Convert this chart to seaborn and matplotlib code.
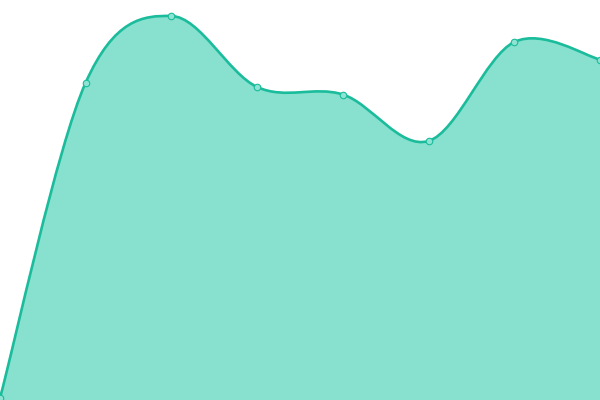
import matplotlib
matplotlib.use("Agg")
import matplotlib.pyplot as plt
from matplotlib.path import Path
from matplotlib.patches import PathPatch
import numpy as np
import pandas as pd
import seaborn as sns

# values
positions = [0, 1, 2, 3, 4, 5, 6, 7]
values = [2, 317.5, 384, 313, 305.5, 259, 358, 340.5]

LINE = "#1abc9c"
FILL = "#88e0cf"


def smooth_path(xs, ys, close_to=None):
    # Catmull-Rom segments written as cubic Bezier pieces (data coords)
    pts = np.column_stack([xs, ys]).astype(float)
    n = len(pts)
    verts = [tuple(pts[0])]
    codes = [Path.MOVETO]
    for i in range(n - 1):
        p0 = pts[max(i - 1, 0)]
        p1 = pts[i]
        p2 = pts[i + 1]
        p3 = pts[min(i + 2, n - 1)]
        c1 = p1 + (p2 - p0) / 6
        c2 = p2 - (p3 - p1) / 6
        verts += [tuple(c1), tuple(c2), tuple(p2)]
        codes += [Path.CURVE4] * 3
    if close_to is not None:
        verts += [(pts[-1, 0], close_to), (pts[0, 0], close_to), verts[0]]
        codes += [Path.LINETO, Path.LINETO, Path.CLOSEPOLY]
    return Path(verts, codes)


df = pd.DataFrame({"x": positions, "y": values})

sns.set_style("white")
fig = plt.figure(figsize=(6, 4), dpi=100)
ax = fig.add_axes([0, 0, 1, 1])

ax.add_patch(PathPatch(smooth_path(df.x, df.y, close_to=0), facecolor=FILL,
                       edgecolor="none", zorder=1))
ax.add_patch(PathPatch(smooth_path(df.x, df.y), facecolor="none",
                       edgecolor=LINE, lw=1.9, zorder=2))
sns.scatterplot(data=df, x="x", y="y", ax=ax, s=22, color="#8fe3d2",
                edgecolor=LINE, linewidth=0.8, zorder=3, clip_on=True)

ax.set_xlim(0, 7)
ax.set_ylim(0, 400)
ax.axis("off")

fig.savefig("out.png", dpi=100)
